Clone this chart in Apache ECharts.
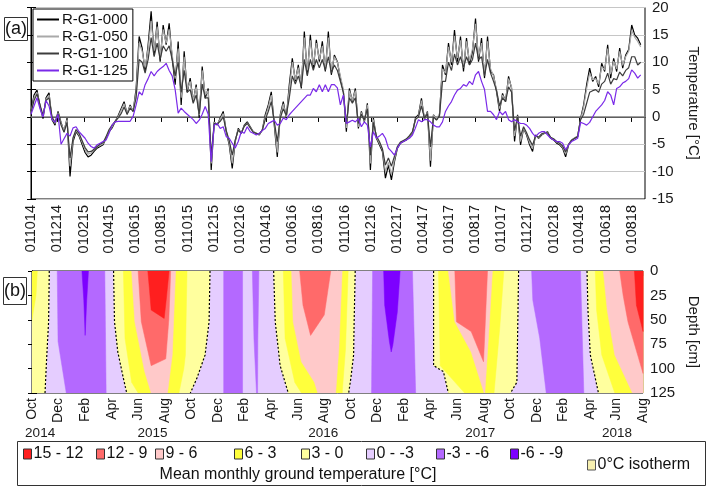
<!DOCTYPE html>
<html><head><meta charset="utf-8">
<script src="https://cdn.jsdelivr.net/npm/echarts@6/dist/echarts.min.js"></script>
<style>html,body{margin:0;padding:0;background:#fff}#c{width:709px;height:489px}</style>
</head><body><div id="c"></div>
<script>
// ---------- panel (a): weekly samples starting 1 Oct 2014 ----------
const stepDays = 7;
const temp000 = [1.0,4.0,4.9,2.0,-0.3,3.5,4.4,-0.5,-1.5,1.0,-1.0,-2.7,-0.2,-10.9,-4.5,-2.7,-3.5,-5.0,-6.5,-7.3,-7.0,-6.3,-5.7,-5.4,-5.1,-3.9,-2.7,-2.0,-0.9,0.2,1.5,2.8,0.5,2.2,1.0,5.2,14.7,12.6,8.3,13.2,19.3,11.3,17.4,10.1,16.8,13.2,17.1,10.7,5.9,13.8,2.2,12.0,4.5,7.1,2.8,5.9,-0.2,9.2,3.4,5.2,-9.7,-0.9,-1.5,-0.2,1.0,-2.7,-5.1,-9.4,-4.5,-2.1,-3.0,-1.5,-0.9,-1.8,-2.7,-3.0,-3.3,-2.4,0.4,2.2,4.6,-1.5,-7.3,0.4,2.8,-0.2,5.9,10.7,6.5,9.5,5.2,15.6,7.7,15.0,8.9,14.1,10.1,13.8,8.3,15.6,7.7,11.3,10.1,7.1,4.6,-2.7,5.2,2.8,5.2,-2.1,1.0,-0.9,2.5,-9.7,-0.2,-3.9,-5.1,-6.3,-11.2,-8.8,-11.5,-8.2,-5.7,-4.8,-4.5,-4.2,-3.6,-3.0,-0.2,0.4,3.4,-0.5,1.0,-9.1,0.4,-0.5,0.4,9.5,7.7,13.5,9.5,15.9,10.1,14.7,8.3,14.4,9.5,12.0,18.0,10.1,14.4,7.1,14.7,8.3,7.7,4.6,1.0,4.3,2.8,7.4,5.2,-4.5,0.4,-5.1,-2.1,-3.3,-5.1,-6.3,-3.3,-3.9,-3.3,-3.0,-2.7,-3.9,-4.2,-4.8,-5.1,-5.7,-7.3,-5.1,-4.2,-3.9,-3.6,-0.2,2.2,5.9,8.9,6.5,7.4,5.5,9.8,8.3,13.2,7.1,10.7,8.3,12.6,8.9,11.3,12.3,16.8,15.0,14.4,13.2];
const temp050 = [0.8,3.5,4.5,1.8,0.0,3.2,4.0,-0.3,-1.2,0.8,-1.2,-2.5,-0.5,-9.0,-4.0,-2.5,-3.3,-4.6,-6.0,-6.8,-6.6,-6.0,-5.5,-5.2,-4.9,-3.7,-2.5,-1.8,-0.8,0.0,1.2,2.4,0.6,2.0,1.2,4.5,13.5,12.0,9.0,12.5,17.5,12.0,16.5,11.0,16.0,13.5,16.0,11.5,7.0,12.5,3.5,11.0,5.0,6.5,3.0,5.5,0.3,8.5,4.0,4.8,-8.5,-1.0,-1.3,-0.4,0.6,-2.5,-4.8,-8.5,-4.3,-2.3,-3.0,-1.6,-1.1,-1.9,-2.7,-3.0,-3.2,-2.4,0.0,1.8,4.0,-1.0,-6.5,0.2,2.4,0.0,5.0,10.0,6.8,9.0,5.8,14.5,8.5,14.0,9.5,13.5,10.5,13.0,9.0,14.5,8.5,11.0,10.0,7.5,5.0,-2.0,4.8,3.0,4.8,-1.8,0.8,-0.8,2.2,-8.5,-0.5,-3.7,-4.8,-6.0,-10.0,-8.3,-10.5,-7.8,-5.5,-4.7,-4.4,-4.1,-3.5,-2.9,-0.4,0.2,3.0,-0.3,0.8,-8.0,0.3,-0.3,0.5,8.8,8.0,12.8,10.0,14.8,10.8,14.0,9.0,13.8,10.2,12.5,17.0,11.0,13.5,8.0,13.8,8.8,7.5,5.0,1.5,4.0,3.0,7.0,5.5,-3.5,0.2,-4.5,-2.0,-3.1,-4.7,-5.8,-3.3,-3.8,-3.2,-3.0,-2.8,-3.8,-4.1,-4.6,-4.9,-5.5,-6.8,-5.0,-4.2,-3.8,-3.5,-0.4,1.8,5.2,8.0,6.8,7.0,6.0,9.2,8.6,12.5,7.8,10.2,8.8,12.0,9.4,11.0,12.0,15.8,14.6,13.8,12.8];
const temp100 = [0.8,3.0,4.2,2.2,0.3,3.0,3.5,0.0,-1.0,0.6,-1.5,-2.8,-1.0,-7.5,-3.8,-2.3,-3.0,-4.3,-5.6,-6.4,-6.3,-5.9,-5.4,-5.0,-4.7,-3.6,-2.3,-1.5,-0.8,-0.2,0.6,1.8,0.5,1.6,1.0,3.5,10.5,10.0,8.0,10.5,14.5,11.0,13.5,10.5,13.0,12.0,13.0,10.5,7.5,10.0,4.5,8.5,4.5,5.0,2.5,4.0,0.5,6.0,3.5,3.5,-7.0,-1.2,-1.3,-0.8,0.0,-2.5,-4.3,-7.0,-4.2,-2.4,-3.0,-1.7,-1.2,-2.0,-2.8,-3.0,-3.1,-2.4,-0.5,1.0,2.8,-0.8,-4.5,-0.2,1.5,0.3,3.5,7.5,6.0,7.5,5.5,10.5,7.5,10.5,8.5,10.5,9.0,10.5,8.5,11.0,8.0,9.5,8.5,6.5,4.5,-1.2,3.5,2.5,3.5,-1.2,0.5,-0.6,1.5,-7.0,-1.0,-3.5,-4.5,-5.8,-8.8,-7.5,-9.0,-7.2,-5.4,-4.6,-4.3,-4.0,-3.4,-2.7,-0.5,0.0,2.0,-0.2,0.6,-5.5,0.0,-0.6,0.2,6.5,6.5,10.0,8.5,11.5,9.5,11.0,9.0,11.0,9.5,10.5,13.5,10.5,11.0,7.5,10.5,8.0,6.5,4.8,2.0,3.5,2.8,5.5,4.5,-2.5,0.0,-3.5,-1.8,-2.9,-4.2,-5.2,-3.4,-3.7,-3.1,-2.9,-2.9,-3.7,-4.0,-4.5,-4.8,-5.3,-6.4,-5.0,-4.3,-3.9,-3.6,-0.5,0.5,2.5,4.5,4.8,5.0,4.5,6.0,6.5,8.0,6.0,7.0,6.8,8.2,7.5,8.5,9.0,11.0,11.0,9.5,10.0];
const temp125 = [0.5,2.0,3.5,1.5,0.0,3.0,2.0,-0.5,-1.0,0.5,-5.0,-4.0,-3.0,-3.5,-2.0,-1.8,-2.7,-3.3,-3.9,-4.8,-5.4,-5.7,-5.1,-4.8,-4.5,-4.2,-3.0,-1.5,-0.9,-0.8,-0.8,-0.8,-0.8,-0.8,0.1,2.2,4.6,4.0,5.9,7.0,8.3,7.5,8.3,8.8,9.2,9.8,8.5,7.5,5.0,0.7,1.6,1.0,0.5,0.0,-0.5,-1.2,-0.6,0.5,1.9,0.5,-8.2,-1.5,-1.2,-2.1,-1.8,-3.6,-3.9,-4.8,-5.7,-4.5,-2.7,-3.0,-1.8,-2.7,-3.0,-3.3,-3.0,-2.5,-2.1,-1.2,-0.9,-0.6,-1.5,-1.2,-0.2,-0.5,0.4,1.0,1.6,2.2,2.8,3.4,4.0,4.0,5.2,4.6,5.9,4.6,5.9,4.6,5.9,5.9,5.3,2.2,4.0,-1.2,-0.9,-0.6,-0.9,-0.3,-1.8,-0.9,-1.5,-5.5,-2.7,-3.9,-3.5,-3.0,-3.9,-5.7,-6.3,-7.0,-5.7,-4.8,-4.5,-4.2,-3.9,-3.3,-2.0,-0.5,-0.9,-0.5,-0.5,-0.9,-1.5,-1.8,-1.8,-0.9,1.0,2.0,2.8,4.0,4.9,5.2,5.9,5.6,6.5,5.9,7.7,8.3,6.5,5.0,1.0,1.0,0.4,-0.5,1.0,0.4,1.0,-0.5,-0.9,-0.5,-0.9,-1.2,-1.2,-1.5,-2.1,-3.0,-3.6,-3.0,-2.7,-2.7,-3.3,-3.9,-4.2,-4.5,-4.5,-4.8,-6.0,-5.1,-4.5,-4.2,-3.9,-1.0,-1.2,-1.5,-1.0,0.0,1.0,1.6,2.2,3.0,4.6,4.0,2.2,5.2,5.5,6.2,6.5,7.0,8.6,8.0,7.1,7.7];
const seriesNames = ['R-G1-000','R-G1-050','R-G1-100','R-G1-125'];
const topTickLabels = ['011014','011214','010215','010415','010615','010815','011015','011215','010216','010416','010616','010816','011016','011216','010217','010417','010617','010817','011017','011217','010218','010418','010618','010818'];
const topAxisEndLabel = '010918';

// ---------- panel (b): month index 0 = Oct 2014 ... 46 = Aug 2018, depth in cm ----------
const monthNames = ['Oct','Dec','Feb','Apr','Jun','Aug'];
const yearLabels = ['2014','2015','2016','2017','2018'];
const yearPos = [0.6, 8.9, 21.5, 33.1, 43.2];
const classNames = ['15 - 12','12 - 9','9 - 6','6 - 3','3 - 0','0 - -3','-3 - -6','-6 - -9'];
const classColors = ['#ff1f1f','#ff6a6a','#ffc9c9','#ffff3c','#ffff9e','#e5cdff','#b469ff','#7d00ff'];
// 0 °C isotherm lines [month, depth]
const isoA = [[1.3,0],[1.25,52],[1.1,90],[0.98,125]];
const isoB = [[6.14,0],[6.21,52],[6.46,83],[6.88,110],[7.13,125]];
const isoC = [[13.4,0],[13.33,52],[13.03,86],[12.41,110],[11.92,125]];
const isoD = [[18.19,0],[18.31,52],[18.68,97],[19.29,125]];
const isoE = [[24.33,0],[24.25,52],[24.21,86],[24.0,110],[23.84,125]];
const isoF = [[30.23,0],[30.23,97],[30.97,103],[31.34,125]];
const isoG = [[36.63,0],[36.5,114],[36.02,125]];
const isoH = [[41.78,0],[41.85,40],[42.03,86],[42.64,125]];
// regions colder than -3 / -6, warmer than 3 / 6 / 9 / 12
const below3 = [
  [[1.9,0],[5.48,0],[5.58,125],[2.58,125],[1.96,72]],
  [[14.43,0],[15.85,0],[15.85,125],[14.43,125]],
  [[16.59,0],[17.08,0],[17.0,70],[16.98,125],[16.9,125],[16.71,70]],
  [[25.64,0],[28.64,0],[28.88,125],[25.56,125]],
  [[37.61,0],[41.29,0],[41.54,125],[38.71,125],[38.22,69],[37.7,30]]
];
const below6 = [
  [[3.76,0],[4.25,0],[4.12,30],[4.0,66],[3.9,30]],
  [[26.47,0],[27.71,0],[27.5,42],[27.16,76],[27.04,83],[26.9,72],[26.55,35]]
];
const above3 = [
  [[0,0],[0.4,0],[0.3,25],[0,50]],
  [[6.88,0],[11.67,0],[11.55,86],[11.43,100],[11.06,125],[7.99,125],[7.5,114],[7.0,69]],
  [[18.92,0],[23.8,0],[23.6,80],[23.35,125],[20.28,125],[19.78,114],[19.05,69]],
  [[30.6,0],[35.52,0],[35.2,60],[34.78,125],[32.57,125],[31.58,110],[30.73,97]],
  [[42.4,0],[46,0],[46,125],[43.87,125],[42.89,86],[42.5,40]]
];
const above6 = [
  [[7.5,0],[10.81,0],[10.56,86],[10.2,125],[8.97,125],[8.48,103],[7.74,52]],
  [[19.54,0],[23.35,0],[23.1,80],[22.86,125],[21.51,125],[21.26,114],[20.28,93],[19.66,52]],
  [[31.34,0],[34.66,0],[34.4,60],[34.09,125],[34.04,125],[33.06,83],[31.83,52]],
  [[43.01,0],[46,0],[46,125],[45.2,125],[43.87,86],[43.3,40]]
];
const above9 = [
  [[7.99,0],[10.44,0],[10.3,50],[10.07,90],[8.97,97],[8.23,52]],
  [[20.15,0],[22.49,0],[22.0,45],[20.97,66],[20.4,35]],
  [[31.83,0],[34.29,0],[34.1,60],[33.99,93],[33.06,62],[31.95,52]],
  [[44.24,0],[46,0],[46,105],[44.86,52],[44.5,25]]
];
const above12 = [
  [[8.72,0],[10.32,0],[10.1,30],[9.95,48.6],[8.97,40],[8.85,20]],
  [[45.35,0],[46,0],[46,62],[45.5,35]]
];

// ---------- build ----------
const FONT = 'Liberation Sans';
const T0 = Date.UTC(2014, 9, 1);
function dayOf(lbl){ const d=+lbl.slice(0,2), m=+lbl.slice(2,4), y=2000+(+lbl.slice(4,6)); return Math.round((Date.UTC(y,m-1,d)-T0)/86400000); }
const tickDays = topTickLabels.map(dayOf);
const labelByDay = {}; topTickLabels.forEach((l,i)=>labelByDay[tickDays[i]]=l);
const maxDay = dayOf(topAxisEndLabel);
const toPairs = arr => arr.map((v,i)=>[i*stepDays, v]);

const MMAX = 46, DMAX = 125;
const above0 = [
  [[0,0]].concat(isoA,[[0,DMAX]]),
  isoB.concat(isoC.slice().reverse()),
  isoD.concat(isoE.slice().reverse()),
  isoF.concat(isoG.slice().reverse()),
  isoH.concat([[MMAX,DMAX],[MMAX,0]])
];
const fullDomain = [[[0,0],[MMAX,0],[MMAX,DMAX],[0,DMAX]]];
const classPolys = {
  '15 - 12': above12, '12 - 9': above9, '9 - 6': above6, '6 - 3': above3,
  '3 - 0': above0, '0 - -3': fullDomain, '-3 - -6': below3, '-6 - -9': below6
};
const drawOrder = ['0 - -3','-3 - -6','-6 - -9','3 - 0','6 - 3','9 - 6','12 - 9','15 - 12'];
const contourSeries = drawOrder.map(name => {
  const polys = classPolys[name];
  const color = classColors[classNames.indexOf(name)];
  return {
    type:'custom', name, xAxisIndex:1, yAxisIndex:2, clip:true,
    itemStyle:{color},
    encode:{x:0,y:1},
    data: polys.map(p=>p[0]),
    renderItem:(params, api)=>({
      type:'polygon',
      shape:{points: polys[params.dataIndex].map(pt=>api.coord(pt))},
      style:{fill:color, stroke:color, lineWidth:0.5}
    })
  };
});
const isoLines = [isoA,isoB,isoC,isoD,isoE,isoF,isoG,isoH];
const isoData = [];
isoLines.forEach((l,i)=>{ if(i) isoData.push([null,null]); l.forEach(p=>isoData.push(p)); });
const monthIdx = []; for(let m=0;m<=MMAX;m+=2) monthIdx.push(m);

const lineColors = ['#000000','#a9a9a9','#3c3c3c','#7a2ae8'];
const lineData = [temp000,temp050,temp100,temp125];
const lineSeries = seriesNames.map((n,i)=>({
  type:'line', name:n, xAxisIndex:0, yAxisIndex:0, data:toPairs(lineData[i]),
  showSymbol:false, symbol:'none', lineStyle:{color:lineColors[i], width:1.2}, itemStyle:{color:lineColors[i]},
  z: 3+i,
  markLine: i===0 ? {silent:true, symbol:['none','none'], label:{show:false}, lineStyle:{color:'#7f7f7f', width:1.6, type:'solid'}, data:[{yAxis:0}], z:2} : undefined
}));

// bottom legend: one entry per class, placed along the legend box
const classLegendLeft = [23, 96, 155, 234, 301, 366, 436, 510];
const classLegends = classNames.map((n,i)=>({
  orient:'horizontal', left:classLegendLeft[i], top:446, data:[n], icon:'rect',
  itemWidth:8, itemHeight:10, padding:0,
  itemStyle:{borderColor:'#333', borderWidth:1},
  textStyle:{fontSize:16, fontFamily:FONT, color:'#111', padding:[0,0,0,-3]}
}));

const axisTxt = {fontFamily:FONT, color:'#1a1a1a'};
const chart = echarts.init(document.getElementById('c'), null, {renderer:'canvas'});
chart.setOption({
  animation:false,
  backgroundColor:'#fff',
  grid:[
    {left:31, right:54, top:7, height:192, show:true, borderColor:'#000', borderWidth:1, backgroundColor:'transparent'},
    {left:32, right:54, top:271, height:122, show:true, borderColor:'#000', borderWidth:1, backgroundColor:'transparent'},
    {left:32, right:54, top:419, height:1}
  ],
  xAxis:[
    {type:'value', gridIndex:0, min:0, max:maxDay,
      axisLine:{show:true,lineStyle:{color:'#000'}},
      axisTick:{show:true, customValues:tickDays, length:5, lineStyle:{color:'#000'}},
      axisLabel:{customValues:tickDays, rotate:90, margin:6, fontSize:14.5, ...axisTxt, formatter:v=>labelByDay[v]||''},
      splitLine:{show:false}},
    {type:'value', gridIndex:1, min:0, max:MMAX, interval:1,
      axisLine:{show:true,lineStyle:{color:'#000'}},
      axisTick:{show:true, length:5, lineStyle:{color:'#000'}},
      axisLabel:{customValues:monthIdx, rotate:90, margin:5, fontSize:14, ...axisTxt, formatter:v=>monthNames[(Math.round(v)/2)%6]},
      splitLine:{show:false}},
    {type:'value', gridIndex:2, min:0, max:MMAX,
      axisLine:{show:false}, axisTick:{show:false}, splitLine:{show:false},
      axisLabel:{customValues:yearPos, margin:6, fontSize:13.5, ...axisTxt, formatter:v=>yearLabels[yearPos.indexOf(v)]}}
  ],
  yAxis:[
    {type:'value', gridIndex:0, position:'right', min:-15, max:20, interval:5,
      axisLine:{show:true,lineStyle:{color:'#000'}},
      axisTick:{show:true,length:5,lineStyle:{color:'#000'}},
      axisLabel:{fontSize:15, margin:7, ...axisTxt},
      splitLine:{show:true, lineStyle:{color:'#c6c6c6', width:1}},
      name:'Temperature [°C]', nameLocation:'middle', nameRotate:-90, nameGap:41,
      nameTextStyle:{fontSize:15, ...axisTxt}},
    {type:'value', gridIndex:0, position:'left', min:-15, max:20, interval:5,
      axisLine:{show:true,lineStyle:{color:'#000'}},
      axisTick:{show:true,length:4,lineStyle:{color:'#000'}},
      axisLabel:{show:false}, splitLine:{show:false}},
    {type:'value', gridIndex:1, position:'right', inverse:true, min:0, max:DMAX, interval:25,
      axisLine:{show:true,lineStyle:{color:'#000'}},
      axisTick:{show:true,length:5,lineStyle:{color:'#000'}},
      axisLabel:{fontSize:15, margin:7, ...axisTxt},
      splitLine:{show:false},
      name:'Depth [cm]', nameLocation:'middle', nameRotate:-90, nameGap:41,
      nameTextStyle:{fontSize:15, ...axisTxt}},
    {type:'value', gridIndex:1, position:'left', inverse:true, min:0, max:DMAX, interval:25,
      axisLine:{show:true,lineStyle:{color:'#000'}},
      axisTick:{show:true,length:4,lineStyle:{color:'#000'}},
      axisLabel:{show:false}, splitLine:{show:false}},
    {type:'value', gridIndex:2, show:false}
  ],
  legend:[
    {orient:'vertical', left:33, top:9, data:seriesNames, backgroundColor:'#fff',
      borderColor:'#000', borderWidth:1, padding:[3,5,3,4], itemGap:2,
      icon:'rect', itemWidth:22, itemHeight:2,
      textStyle:{fontSize:15, fontFamily:FONT, color:'#111', padding:[0,0,0,-2]}},
    {orient:'horizontal', left:587, top:457, data:['0°C isotherm'], icon:'rect',
      itemWidth:8, itemHeight:10, padding:0,
      itemStyle:{color:'#f7f0b0', borderColor:'#555', borderWidth:1},
      textStyle:{fontSize:16, fontFamily:FONT, color:'#111', padding:[0,0,0,-3]}}
  ].concat(classLegends),
  title:{text:'Mean monthly ground temperature [°C]', left:293, top:462, textAlign:'center',
    textStyle:{fontSize:16, fontWeight:'normal', fontFamily:FONT, color:'#111'}},
  graphic:[
    {type:'rect', shape:{x:17.5,y:441.5,width:688,height:44}, style:{fill:'none', stroke:'#333', lineWidth:1}, z:-1},
    {type:'rect', shape:{x:4.5,y:17.5,width:23,height:23}, style:{fill:'#fff', stroke:'#333', lineWidth:1}},
    {type:'text', x:16, y:29, style:{text:'(a)', fontSize:18, fontFamily:FONT, fill:'#111', align:'center', verticalAlign:'middle'}},
    {type:'rect', shape:{x:3.5,y:277.5,width:23,height:27}, style:{fill:'#fff', stroke:'#333', lineWidth:1}},
    {type:'text', x:15, y:291, style:{text:'(b)', fontSize:18, fontFamily:FONT, fill:'#111', align:'center', verticalAlign:'middle'}}
  ],
  series: lineSeries.concat(contourSeries, [{
    type:'line', name:'0°C isotherm', xAxisIndex:1, yAxisIndex:2, data:isoData,
    showSymbol:false, symbol:'none', connectNulls:false, z:10,
    lineStyle:{color:'#000', width:1.2, type:[2,2]}, itemStyle:{color:'#f7f0b0'}
  }])
});
</script></body></html>
